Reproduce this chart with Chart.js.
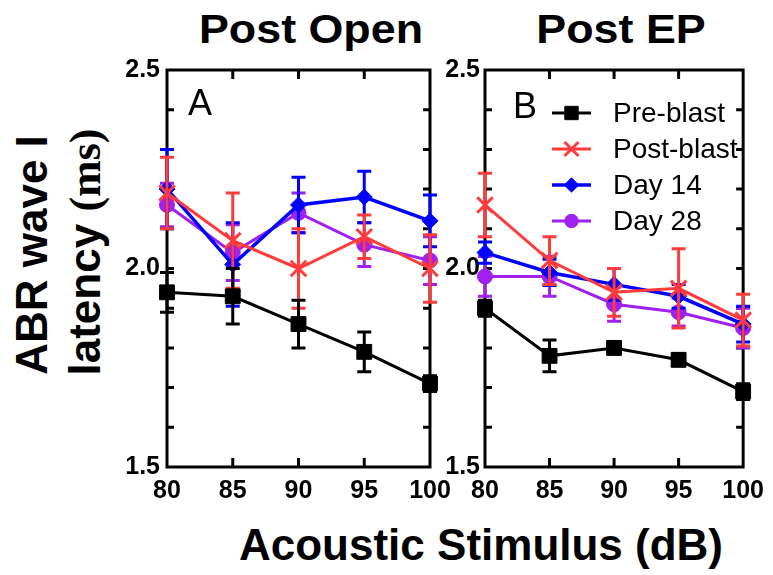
<!DOCTYPE html>
<html>
<head>
<meta charset="utf-8">
<script src="https://cdn.jsdelivr.net/npm/chart.js@4.4.0/dist/chart.umd.min.js"></script>
<style>
  html, body { margin: 0; padding: 0; background: #fff; }
  #figure { position: relative; width: 773px; height: 575px; overflow: hidden;
            font-family: "Liberation Sans", Arial, sans-serif; color: #000; }
  .txt { position: absolute; white-space: nowrap; line-height: 1; }
  .title { font-weight: bold; font-size: 40px; top: 9px; transform: translateX(-50%) scaleX(1.12); }
  .ytitle { font-weight: bold; font-size: 44px; height: 44px; transform: translate(-50%, -50%) rotate(-90deg); }
  .xtitle { font-weight: bold; font-size: 44px; left: 481px; top: 523px; transform: translateX(-50%); }
  .serif { font-family: "Liberation Serif", "Times New Roman", serif; }
  .panel { font-size: 36px; }
  canvas { position: absolute; }
</style>
</head>
<body>
<div id="figure">
  <div class="txt title" style="left:311px">Post Open</div>
  <div class="txt title" style="left:621px">Post EP</div>
  <div class="txt ytitle" style="left:32px; top:255px">ABR wave I</div>
  <div class="txt ytitle" style="left:85px; top:252px">latency <span class="serif">(ms)</span></div>
  <div class="txt xtitle">Acoustic Stimulus (dB)</div>
  <canvas id="chartA" width="360" height="470" style="left:100px; top:40px; width:360px; height:470px"></canvas>
  <canvas id="chartB" width="353" height="470" style="left:420px; top:40px; width:353px; height:470px"></canvas>
  <div class="txt panel" style="left:188px; top:85px">A</div>
  <div class="txt panel" style="left:513px; top:88px">B</div>
</div>
<script>
// stimulus levels (dB)
const stimulus = [80, 85, 90, 95, 100];
const groups = ['Pre-blast', 'Post-blast', 'Day 14', 'Day 28'];

// wave I latency (ms), mean and error, Post Open
const openPre      = [1.94, 1.93, 1.86, 1.79, 1.71];
const openPreErr   = [0.05, 0.07, 0.06, 0.05, 0.02];
const openPost     = [2.19, 2.07, 2.00, 2.08, 2.00];
const openPostErr  = [0.09, 0.12, 0.10, 0.055, 0.085];
const openD14      = [2.20, 2.01, 2.16, 2.18, 2.12];
const openD14Err   = [0.10, 0.105, 0.07, 0.065, 0.065];
const openD28      = [2.16, 2.04, 2.14, 2.06, 2.02];
const openD28Err   = [0.055, 0.07, 0.05, 0.055, 0.06];

// Post EP
const epPre        = [1.90, 1.78, 1.80, 1.77, 1.69];
const epPreErr     = [0.02, 0.04, 0.015, 0.015, 0.02];
const epPost       = [2.16, 2.02, 1.94, 1.95, 1.87];
const epPostErr    = [0.08, 0.06, 0.06, 0.10, 0.065];
const epD14        = [2.04, 1.99, 1.96, 1.93, 1.86];
const epD14Err     = [0.027, 0.033, 0.04, 0.03, 0.045];
const epD28        = [1.98, 1.98, 1.91, 1.89, 1.85];
const epD28Err     = [0.05, 0.05, 0.043, 0.035, 0.05];

const yTickLabels = ['1.5', '2.0', '2.5'];

const styles = [
  { color: '#000000', pointStyle: 'rect',     radius: 10.5, width: 3 },
  { color: '#ff3b3b', pointStyle: 'crossRot', radius: 11,   width: 3 },
  { color: '#0000ff', pointStyle: 'rectRot',  radius: 8,    width: 3.5 },
  { color: '#a020f0', pointStyle: 'circle',   radius: 7.5,  width: 3 },
];

const FONT = '"Liberation Sans", Arial, sans-serif';

function makeDatasets(means, errs) {
  return means.map((m, k) => ({
    label: groups[k],
    data: m.map((v, i) => ({ x: stimulus[i], y: v })),
    errors: errs[k],
    borderColor: styles[k].color,
    backgroundColor: styles[k].color,
    borderWidth: styles[k].width,
    pointStyle: styles[k].pointStyle,
    pointRadius: styles[k].radius,
    pointHoverRadius: styles[k].radius,
    pointBorderWidth: k === 1 ? 3 : 1,
    pointBackgroundColor: styles[k].color,
    pointBorderColor: styles[k].color,
    tension: 0,
    fill: false,
    clip: false,
  }));
}

// box around the plot with inward ticks on all four sides
const frame = {
  id: 'frame',
  beforeDatasetsDraw(chart) {
    const { ctx, chartArea: a, scales: { x, y } } = chart;
    ctx.save();
    ctx.strokeStyle = '#000';
    ctx.lineWidth = 3;
    ctx.beginPath();
    y.ticks.forEach(t => {
      const py = y.getPixelForValue(t.value);
      if (py <= a.top + 1 || py >= a.bottom - 1) return;
      ctx.moveTo(a.left, py); ctx.lineTo(a.left + 7, py);
      ctx.moveTo(a.right, py); ctx.lineTo(a.right - 7, py);
    });
    x.ticks.forEach(t => {
      const px = x.getPixelForValue(t.value);
      if (px <= a.left + 1 || px >= a.right - 1) return;
      ctx.moveTo(px, a.top); ctx.lineTo(px, a.top + 9);
      ctx.moveTo(px, a.bottom); ctx.lineTo(px, a.bottom - 9);
    });
    ctx.stroke();
    ctx.strokeRect(a.left, a.top, a.width, a.height);
    ctx.restore();
  }
};

// vertical error bars with caps, drawn under each series
const errorBars = {
  id: 'errorBars',
  beforeDatasetDraw(chart, args) {
    const ds = chart.data.datasets[args.index];
    const { ctx, scales: { x, y } } = chart;
    ctx.save();
    ctx.strokeStyle = ds.borderColor;
    ctx.lineWidth = 3;
    ds.data.forEach((p, i) => {
      const e = ds.errors[i];
      const px = x.getPixelForValue(p.x);
      const top = y.getPixelForValue(p.y + e);
      const bot = y.getPixelForValue(p.y - e);
      ctx.beginPath();
      ctx.moveTo(px, top); ctx.lineTo(px, bot);
      ctx.moveTo(px - 7, top); ctx.lineTo(px + 7, top);
      ctx.moveTo(px - 7, bot); ctx.lineTo(px + 7, bot);
      ctx.stroke();
    });
    ctx.restore();
  }
};

// line + marker legend inside panel B
const lineLegend = {
  id: 'lineLegend',
  afterDraw(chart) {
    const { ctx, chartArea: a } = chart;
    ctx.save();
    chart.data.datasets.forEach((ds, k) => {
      const yy = a.top + 43 + k * 36;
      const x0 = a.left + 67, x1 = a.left + 106;
      ctx.strokeStyle = ds.borderColor;
      ctx.fillStyle = ds.borderColor;
      ctx.lineWidth = ds.borderWidth;
      ctx.beginPath();
      ctx.moveTo(x0, yy); ctx.lineTo(x1, yy);
      ctx.stroke();
      ctx.lineWidth = ds.pointBorderWidth;
      Chart.helpers.drawPoint(ctx, {
        pointStyle: ds.pointStyle, radius: ds.pointRadius * 0.9,
        rotation: 0, borderWidth: ds.pointBorderWidth
      }, (x0 + x1) / 2, yy);
      ctx.fillStyle = '#000';
      ctx.font = '28px ' + FONT;
      ctx.textBaseline = 'middle';
      ctx.fillText(ds.label, a.left + 128, yy + 1);
    });
    ctx.restore();
  }
};

function panel(id, datasets, yWidth, padRight, yPad, plugins) {
  return new Chart(document.getElementById(id), {
    type: 'line',
    data: { datasets },
    options: {
      responsive: false,
      animation: false,
      layout: { padding: { left: 0, top: 30, right: padRight, bottom: 3 } },
      plugins: { legend: { display: false }, tooltip: { enabled: false } },
      scales: {
        x: {
          type: 'linear', min: 80, max: 100,
          grid: { display: false, drawTicks: false },
          border: { display: false },
          ticks: { stepSize: 5, padding: 9, color: '#000',
                   font: { family: FONT, size: 25, weight: 'bold' } },
          afterFit: s => { s.height = 40; },
        },
        y: {
          type: 'linear', min: 1.5, max: 2.5,
          grid: { display: false, drawTicks: false },
          border: { display: false },
          ticks: {
            stepSize: 0.1, autoSkip: false, padding: yPad, color: '#000',
            font: { family: FONT, size: 25, weight: 'bold' },
            callback: v => {
              const s = v.toFixed(1);
              return yTickLabels.includes(s) && Math.abs(v * 2 - Math.round(v * 2)) < 1e-6 ? s : '';
            },
          },
          afterFit: s => { s.width = yWidth; },
        },
      },
    },
    plugins,
  });
}

panel('chartA',
  makeDatasets([openPre, openPost, openD14, openD28], [openPreErr, openPostErr, openD14Err, openD28Err]),
  67, 30, 7, [frame, errorBars]);

panel('chartB',
  makeDatasets([epPre, epPost, epD14, epD28], [epPreErr, epPostErr, epD14Err, epD28Err]),
  65, 23, 5, [frame, errorBars, lineLegend]);
</script>
</body>
</html>
